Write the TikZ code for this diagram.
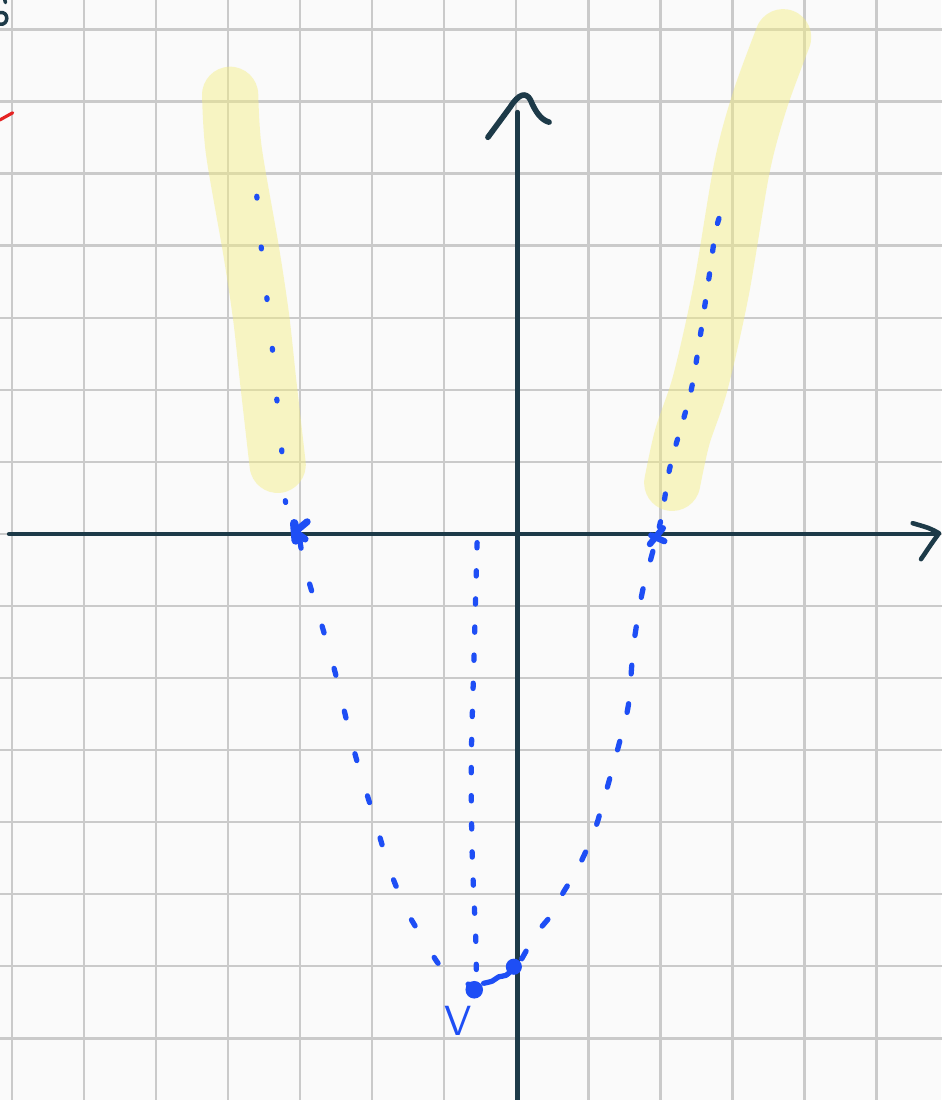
\documentclass[tikz,border=0pt]{standalone}
\usepackage{tikz}
\usetikzlibrary{calc, positioning}
\definecolor{paper}{HTML}{FAFAFA}
\definecolor{gridgray}{HTML}{CACACA}
\definecolor{ink}{HTML}{1D3A48}
\definecolor{penblue}{HTML}{1E4EF5}
\definecolor{marker}{HTML}{F5EE80}
\definecolor{penred}{HTML}{E52222}
\tikzset{
  gridline/.style={gridgray, line width=0.85pt},
  axisline/.style={ink, line width=1.3pt, line cap=round, line join=round},
  highlight/.style={marker, opacity=0.45, line width=16pt, line cap=round, line join=round},
  pen/.style={penblue, line width=1.5pt, line cap=round, line join=round},
  dotcurve/.style={pen, dash pattern=on 2pt off 10.5pt},
  pendot/.style={circle, fill=penblue, inner sep=0pt, minimum size=5pt},
}
\begin{document}
\begin{tikzpicture}[x=0.72cm, y=0.72cm, font=\small]
  % paper and grid
  \fill[paper] (-7.1667,-7.8611) rectangle (5.9028,7.4167);
  \useasboundingbox (-7.1667,-7.8611) rectangle (5.9028,7.4167);
  \foreach \gx in {-7,...,5} \draw[gridline] (\gx,-7.87) -- (\gx,7.42);
  \foreach \gy in {-7,...,7} \draw[gridline] (-7.17,\gy) -- (5.91,\gy);
  % leftovers at the edge
  \draw[axisline, line width=1pt] (-7.17,7.24) .. controls (-7.04,7.27) and (-7.04,7.06) .. (-7.17,7.08);
  \draw[axisline, line width=1pt] (-7.10,7.42) -- (-7.09,7.38);
  \draw[penred, line width=0.9pt, line cap=round] (-7.17,5.75) -- (-6.99,5.85);
  % highlighter strokes
  \draw[highlight] plot[smooth] coordinates {(-3.97,6.10) (-3.92,5.33) (-3.68,3.94) (-3.54,3.01) (-3.44,2.10) (-3.31,0.96)};
  \draw[highlight] plot[smooth] coordinates {(3.71,6.90) (3.39,6.03) (3.14,5.10) (2.85,3.39) (2.56,2.10) (2.31,1.35) (2.17,0.71)};
  % axes
  \coordinate (xstart) at (-7.04,0);
  \coordinate (xend) at (5.86,0);
  \coordinate (ystart) at (0.02,-7.87);
  \coordinate (yend) at (0.02,5.86);
  \draw[axisline] (xstart) -- (xend);
  \draw[axisline] (ystart) -- (yend);
  \draw[axisline] (5.51,0.15) .. controls (5.75,0.08) .. (5.875,0.01) .. controls (5.78,-0.12) .. (5.625,-0.35);
  \draw[axisline, line width=1.6pt] (-0.39,5.51) -- (-0.08,5.93) .. controls (0.04,6.12) and (0.14,6.14) .. (0.2,6.03)
      .. controls (0.27,5.86) and (0.35,5.75) .. (0.46,5.72);
  % key points
  \coordinate (root1) at (-3.03,0.03);
  \coordinate (root2) at (1.96,-0.04);
  \node[pendot] (vertex) at (-0.58,-6.33) {};
  \node[pendot, minimum width=4.6pt, minimum height=4pt] (yint) at (-0.03,-6.01) {};
  \node[penblue, font=\sffamily\large] (vlabel) at (-0.81,-6.76) {V};
  % parabola, drawn by hand
  \draw[dotcurve, dash pattern=on 0.5pt off 14pt] plot[smooth] coordinates {(-3.6,4.69) (-3.53,3.9) (-3.40,2.74) (-3.32,1.85) (-3.26,1.26) (-3.2,0.44) (-3.03,0.03)};
  \draw[dotcurve] plot[smooth] coordinates {(-3.0,-0.1) (-2.93,-0.47) (-2.69,-1.29) (-2.51,-1.93) (-2.36,-2.56) (-2.21,-3.15)
      (-1.97,-3.94) (-1.75,-4.67) (-1.51,-5.25) (-1.26,-5.67) (-1.06,-5.99) (-0.81,-6.18) (-0.62,-6.27)};
  \draw[pen] plot[smooth] coordinates {(-0.45,-6.24) (-0.33,-6.21) (-0.24,-6.15) (-0.14,-6.13) (-0.05,-6.05)};
  \draw[dotcurve, dash pattern=on 2.5pt off 8.5pt] plot[smooth] coordinates {(0.08,-5.9) (0.29,-5.54) (0.49,-5.29) (0.65,-4.99) (0.86,-4.64) (1.08,-4.15)
      (1.22,-3.69) (1.42,-2.96) (1.56,-2.38) (1.63,-1.57) (1.74,-0.88) (1.82,-0.54) (1.94,-0.1)};
  \draw[dotcurve, dash pattern=on 1.5pt off 6.5pt] plot[smooth] coordinates {(1.99,0.1) (2.04,0.33) (2.11,0.79) (2.19,1.13) (2.35,1.68) (2.44,2.03)
      (2.53,2.56) (2.68,3.56) (2.78,4.24) (2.9,4.61)};
  % axis of symmetry
  \draw[dotcurve, dash pattern=on 1.5pt off 6.5pt] plot[smooth] coordinates {(-0.54,-0.12) (-0.58,-1.6) (-0.62,-3.1) (-0.61,-4.4) (-0.56,-5.6) (-0.55,-6.15)};
  % roots
  \draw[pen, line width=2.4pt] ($(root1)+(-0.05,0.12)$) -- ($(root1)+(-0.03,-0.12)$);
  \draw[pen, line width=2pt] ($(root1)+(0.13,0.14)$) -- ($(root1)+(-0.04,0)$) -- ($(root1)+(0.1,-0.1)$);
  \draw[pen, line width=1.8pt] ($(root2)+(-0.1,-0.1)$) -- ($(root2)+(0.08,0.12)$);
  \draw[pen, line width=1.8pt] ($(root2)+(-0.08,0.02)$) -- ($(root2)+(0.1,-0.06)$);
\end{tikzpicture}
\end{document}
